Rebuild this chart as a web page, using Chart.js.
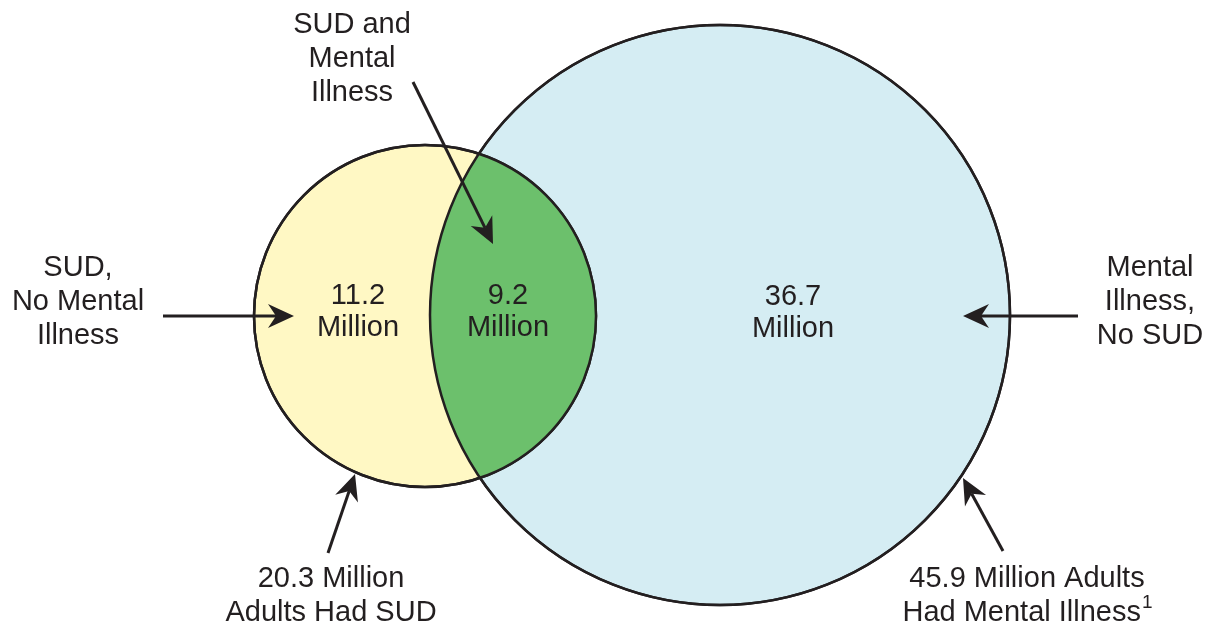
<!DOCTYPE html>
<html>
<head>
<meta charset="utf-8">
<script src="https://cdn.jsdelivr.net/npm/chart.js@4"></script>
<style>
  html, body { margin: 0; padding: 0; background: #fff; }
  #wrap { width: 1210px; height: 628px; position: relative; }
</style>
</head>
<body>
<div id="wrap"><canvas id="venn"></canvas></div>
<script>
// values (millions of adults)
const groups = ['SUD', 'Mental Illness'];
const groupTotals = [20.3, 45.9];
const regionNames = ['SUD, No Mental Illness', 'SUD and Mental Illness', 'Mental Illness, No SUD'];
const regionValues = [11.2, 9.2, 36.7];

// layout, in the chart's own units (x 0..1210, y 0..628 from top)
const circles = [
  { x: 425, y: 316, r: 171, fill: '#FFF8C4' },
  { x: 720, y: 315, r: 290, fill: '#D5EDF3' }
];
const lensFill = '#6CC06C';
const ink = '#231F20';
const font = '"Liberation Sans", Arial, sans-serif';
const fontSize = 29;
const lineGap = 34;

const regionLabelPos = [[358, 296], [508, 296], [793, 297]];

const callouts = [
  { lines: ['SUD,', 'No Mental', 'Illness'], x: 78, y: 268, from: [163, 316], to: [294, 316] },
  { lines: ['SUD and', 'Mental', 'Illness'], x: 352, y: 25, from: [413, 82], to: [493, 244] },
  { lines: ['Mental', 'Illness,', 'No SUD'], x: 1150, y: 268, from: [1078, 316], to: [963, 316] },
  { lines: [groupTotals[0] + ' Million', 'Adults Had SUD'], x: 331, y: 579, from: [328, 553], to: [355, 474] },
  { lines: [groupTotals[1] + ' Million Adults', 'Had Mental Illness'], sup: '1', x: 1027, y: 579, from: [1003, 551], to: [963, 478] }
];

function px(chart, x, y) {
  return [chart.scales.x.getPixelForValue(x), chart.scales.y.getPixelForValue(y)];
}
function radiusPx(chart, r) {
  const s = chart.scales.x;
  return Math.abs(s.getPixelForValue(r) - s.getPixelForValue(0));
}

function arrow(ctx, a, b) {
  const ang = Math.atan2(b[1] - a[1], b[0] - a[0]);
  const head = 26, half = 12, notch = 8;
  const cos = Math.cos(ang), sin = Math.sin(ang);
  const bx = b[0] - cos * head, by = b[1] - sin * head;
  ctx.strokeStyle = ink;
  ctx.lineWidth = 3;
  ctx.beginPath();
  ctx.moveTo(a[0], a[1]);
  ctx.lineTo(b[0] - cos * (head - notch), b[1] - sin * (head - notch));
  ctx.stroke();
  ctx.fillStyle = ink;
  ctx.beginPath();
  ctx.moveTo(b[0], b[1]);
  ctx.lineTo(bx - sin * half, by + cos * half);
  ctx.lineTo(b[0] - cos * (head - notch), b[1] - sin * (head - notch));
  ctx.lineTo(bx + sin * half, by - cos * half);
  ctx.closePath();
  ctx.fill();
}

const vennPlugin = {
  id: 'venn',
  afterDatasetsDraw(chart) {
    const ctx = chart.ctx;
    const [a, b] = circles.map(c => {
      const p = px(chart, c.x, c.y);
      return { x: p[0], y: p[1], r: radiusPx(chart, c.r) };
    });
    ctx.save();
    // overlap region
    ctx.beginPath();
    ctx.arc(b.x, b.y, b.r, 0, Math.PI * 2);
    ctx.clip();
    ctx.beginPath();
    ctx.arc(a.x, a.y, a.r, 0, Math.PI * 2);
    ctx.fillStyle = lensFill;
    ctx.fill();
    ctx.restore();
    ctx.save();
    ctx.strokeStyle = ink;
    ctx.lineWidth = 2.5;
    [a, b].forEach(c => {
      ctx.beginPath();
      ctx.arc(c.x, c.y, c.r, 0, Math.PI * 2);
      ctx.stroke();
    });

    // text
    const f = fontSize + 'px ' + font;
    const fs = Math.round(fontSize * 0.66) + 'px ' + font;
    ctx.fillStyle = ink;
    ctx.textAlign = 'center';
    ctx.textBaseline = 'middle';
    ctx.font = f;
    regionValues.forEach((v, i) => {
      const p = px(chart, regionLabelPos[i][0], regionLabelPos[i][1]);
      ctx.fillText(v.toFixed(1), p[0], p[1]);
      ctx.fillText('Million', p[0], p[1] + 32);
    });

    callouts.forEach(c => {
      c.lines.forEach((t, i) => {
        const p = px(chart, c.x, c.y + i * lineGap);
        ctx.font = f;
        ctx.textAlign = 'center';
        if (c.sup && i === c.lines.length - 1) {
          ctx.font = fs;
          const sw = ctx.measureText(c.sup).width;
          ctx.font = f;
          const w = ctx.measureText(t).width;
          ctx.textAlign = 'left';
          const left = p[0] - (w + sw) / 2;
          ctx.fillText(t, left, p[1]);
          ctx.font = fs;
          ctx.fillText(c.sup, left + w + 1, p[1] - 10);
        } else {
          ctx.fillText(t, p[0], p[1]);
        }
      });
      arrow(ctx, px(chart, c.from[0], c.from[1]), px(chart, c.to[0], c.to[1]));
    });
    ctx.restore();
  }
};

new Chart(document.getElementById('venn'), {
  type: 'bubble',
  data: {
    labels: groups,
    datasets: groups.map((g, i) => ({
      label: g + ' (' + groupTotals[i] + ' million)',
      // the axes map 1 unit to 1 pixel, so r is given in the same units
      data: [{ x: circles[i].x, y: circles[i].y, r: circles[i].r }],
      backgroundColor: circles[i].fill,
      borderColor: ink,
      borderWidth: 2.5,
      clip: false
    }))
  },
  options: {
    responsive: true,
    maintainAspectRatio: false,
    animation: false,
    events: [],
    layout: { padding: 0, autoPadding: false },
    scales: {
      x: { type: 'linear', min: 0, max: 1210, display: false },
      y: { type: 'linear', min: 0, max: 628, reverse: true, display: false }
    },
    plugins: {
      legend: { display: false },
      tooltip: { enabled: false }
    }
  },
  plugins: [vennPlugin]
});
</script>
</body>
</html>
